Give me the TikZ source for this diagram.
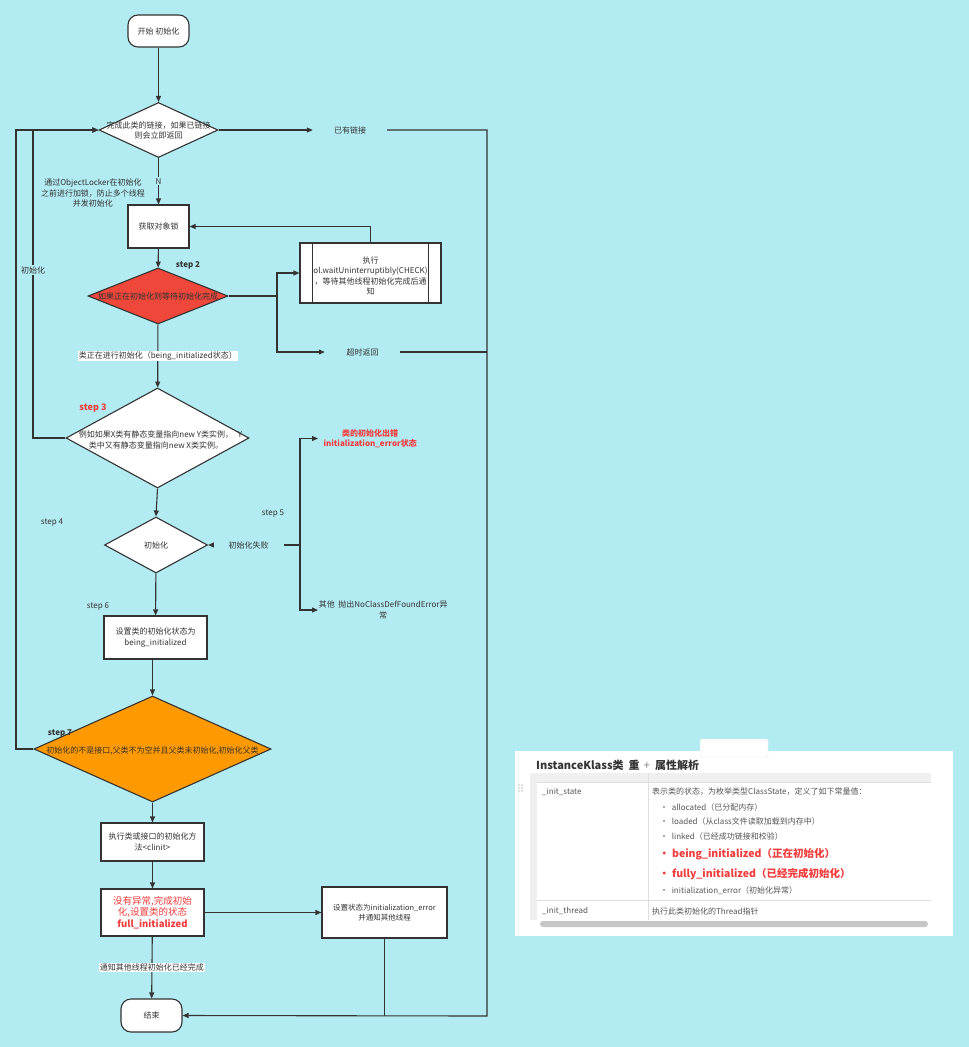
\documentclass[tikz,border=0pt]{standalone}
\usepackage{fontspec}
\setmainfont{Noto Sans CJK SC}
\usetikzlibrary{shapes.geometric,arrows.meta}
\definecolor{bg}{HTML}{B2EBF2}
\definecolor{ln}{HTML}{333333}
\definecolor{txt}{HTML}{333333}
\definecolor{redfill}{HTML}{F0473B}
\definecolor{orangefill}{HTML}{FF9900}
\definecolor{redtxt}{HTML}{F23B3B}
\definecolor{tbltxt}{HTML}{555555}
\newcommand\flowfont{\fontsize{8}{10.5}\selectfont}
\newcommand\tblfont{\fontsize{8}{10}\selectfont}
\tikzset{
  lw/.style={line width=1.1pt},
  arr/.style={draw=ln, lw, -{Triangle[length=6pt,width=5pt]}},
  plain/.style={draw=ln, lw},
  lbl/.style={font=\flowfont, text=txt, inner sep=0pt, align=center},
  box/.style={draw=ln, lw, fill=white, inner sep=0pt, align=center, font=\flowfont, text=txt},
  term/.style={box, rounded corners=10pt},
  dia/.style={diamond, draw=ln, lw, fill=white, inner sep=0pt, aspect=1},
  steplbl/.style={font=\flowfont, text=txt, inner sep=0pt},
  tbl/.style={font=\tblfont, text=tbltxt, inner sep=0pt, anchor=west},
  tblred/.style={font=\fontsize{10.5}{12}\selectfont\bfseries, text=redtxt, inner sep=0pt, anchor=west}
}
\begin{document}
\begin{tikzpicture}[x=1pt,y=-1pt]
\fill[bg] (0,0) rectangle (969,1047);
\useasboundingbox (0,0) rectangle (969,1047);

% ---- nodes ----
\node[term, minimum width=61pt, minimum height=32pt] (start) at (158.5,31) {开始 初始化};
\node[dia, minimum width=119pt, minimum height=55pt] (d1) at (158.5,130) {};
\node[lbl] (d1t) at (158.5,130.5) {完成此类的链接，如果已链接\\则会立即返回};
\node[lbl, minimum width=74pt] (link) at (350,130) {已有链接};
\coordinate (rc) at (487,1016);
\node[lbl] (note) at (93,193) {通过ObjectLocker在初始化\\之前进行加锁，防止多个线程\\并发初始化};
\node[box, minimum width=61pt, minimum height=43pt] (lock) at (158.5,226.5) {获取对象锁};
\node[steplbl, font=\flowfont\bfseries] (s2) at (188,265) {step 2};
\node[dia, fill=redfill, minimum width=140pt, minimum height=56pt] (d2) at (158,296) {};
\node[lbl] (d2t) at (158,296) {如果正在初始化则等待初始化完成};
\node[box, minimum width=141pt, minimum height=60pt] (wait) at (370.5,273) {};
\node[lbl] (waitt) at (370.5,276) {执行\\ol.waitUninterruptibly(CHECK)\\，等待其他线程初始化完成后通\\知};
\coordinate (br) at (277,296);
\node[lbl, minimum width=75pt] (timeout) at (362.5,352) {超时返回};
\node[dia, minimum width=183pt, minimum height=100pt] (d3) at (157.5,438) {};
\node[lbl] (d3t) at (156,440) {例如如果X类有静态变量指向new Y类实例，\\类中又有静态变量指向new X类实例。};
\node[lbl] (ylab) at (240,435) {Y};
\node[steplbl, font=\fontsize{9}{11}\selectfont\bfseries, text=redtxt] (s3) at (93,408) {step 3};
\node[dia, minimum width=103pt, minimum height=56pt] (d4) at (156,545) {};
\node[lbl] (d4t) at (156,545) {初始化};
\node[steplbl] (s4) at (52,523) {step 4};
\coordinate (fj) at (300,545);
\node[lbl, font=\flowfont\bfseries, text=redtxt, minimum width=104pt, anchor=west] (err) at (318,438.5) {类的初始化出错\\initialization\_error状态};
\node[lbl, minimum width=130pt, anchor=west] (other) at (318,610) {其他\ \ 抛出NoClassDefFoundError异\\常};
\node[steplbl] (s5) at (273,514) {step 5};
\node[steplbl] (s6) at (98,607) {step 6};
\node[box, minimum width=103pt, minimum height=43pt] (box6) at (155.5,637.5) {设置类的初始化状态为\\being\_initialized};
\node[dia, fill=orangefill, minimum width=237pt, minimum height=106pt] (d7) at (152.5,749) {};
\node[lbl] (d7t) at (152.5,751) {初始化的不是接口,父类不为空并且父类未初始化,初始化父类};
\node[steplbl, font=\flowfont\bfseries] (s7) at (60,733) {step 7};
\node[box, minimum width=103pt, minimum height=38pt] (box8) at (152.5,842) {执行类或接口的初始化方\\法<clinit>};
\node[box, minimum width=103pt, minimum height=47pt, text=redtxt, font=\fontsize{9.5}{11.5}\selectfont] (box9) at (152.5,912.5) {没有异常,完成初始\\化,设置类的状态\\\textbf{full\_initialized}};
\node[box, minimum width=125pt, minimum height=51pt, font=\fontsize{7.5}{10}\selectfont] (box10) at (384.5,912.5) {设置状态为initialization\_error\\并通知其他线程};
\node[term, minimum width=61pt, minimum height=33pt] (end) at (151.5,1015.5) {结束};

% inner lines of the predefined-process box
\draw[plain] ([xshift=13pt]wait.north west) -- ([xshift=13pt]wait.south west);
\draw[plain] ([xshift=-13pt]wait.north east) -- ([xshift=-13pt]wait.south east);

% ---- connectors ----
\coordinate (l1) at (33,130);
\coordinate (l2) at (16,130);
\draw[arr] (start) -- (d1);
\draw[arr] (d1.east) -- (link.west);
\draw[arr] (link.east) -| (rc) -- (end.east);
\draw[arr] (d1) -- node[lbl, fill=bg, inner sep=1pt] {N} (lock);
\draw[arr] (lock) -- (d2);
\draw[plain] (d2.east) -- (br);
\draw[arr] (br) |- (wait.west);
\draw[arr] (br) |- (timeout.west);
\draw[plain] (timeout.east) -- (timeout.east -| rc);
\draw[arr] (wait.north) |- (lock.east);
\draw[arr] (d2) -- node[lbl, fill=white, inner sep=1pt] {类正在进行初始化（being\_initialized状态）} (d3);
\draw[arr] (d3.west) -| (l1) -- (d1.west);
\draw[arr] (d7.west) -| (l2) -- (d1.west);
\node[lbl, fill=bg, inner sep=1pt] (initlab) at (33,270) {初始化};
\draw[arr] (d3.south) -- (d4.north);
\draw[arr] (fj) -- node[lbl, fill=bg, minimum width=70pt, pos=0.56] {初始化失败} (d4.east);
\draw[arr] (fj) |- (err.west);
\draw[arr] (fj) |- (other.west);
\draw[arr] (d4) -- (box6);
\draw[arr] (box6.south -| d7.north) -- (d7.north);
\draw[arr] (d7) -- (box8);
\draw[arr] (box8) -- (box9);
\draw[arr] (box9.east) -- (box10.west);
\draw[arr] (box9) -- node[lbl, fill=white, inner sep=1pt] {通知其他线程初始化已经完成} (end);
\draw[plain] (box10.south) -- (box10.south |- rc);

% ---- screenshot panel ----
\fill[white] (515,751) rectangle (953,936);
\fill[white, draw=gray!15, rounded corners=2pt] (700,739) rectangle (768,757);
\node[font=\fontsize{11}{12}\selectfont\bfseries, text=txt, anchor=west, inner sep=0pt] (title) at (536,765) {InstanceKlass类\ \ 重};
\node[text=gray, font=\fontsize{11}{12}\selectfont, inner sep=0pt] (plus) at (647,766) {+};
\node[font=\fontsize{11}{12}\selectfont\bfseries, text=txt, anchor=west, inner sep=0pt] (title2) at (655,765) {属性解析};
\fill[gray!12] (530,773) rectangle (931,782);
\fill[gray!12] (530,773) rectangle (537,920);
\draw[gray!25, line width=0.5pt] (537,782) -- (931,782);
\draw[gray!25, line width=0.5pt] (537,900) -- (931,900);
\draw[gray!25, line width=0.5pt] (648,773) -- (648,920);
\fill[gray!45, rounded corners=3pt] (540,921) rectangle (928,927);
\foreach \dx in {0,3} \foreach \dy in {0,3,6} \fill[gray] (519+\dx,785+\dy) circle (0.7pt);
\node[tbl] (r1a) at (542,792) {\_init\_state};
\node[tbl] (r1b) at (652,792) {表示类的状态，为枚举类型ClassState，定义了如下常量值：};
\node[tbl] (b1) at (660,807) {·\ \ allocated（已分配内存）};
\node[tbl] (b2) at (660,821) {·\ \ loaded（从class文件读取加载到内存中）};
\node[tbl] (b3) at (660,836) {·\ \ linked（已经成功链接和校验）};
\node[tblred] (b4) at (659,854) {·\ being\_initialized（正在初始化）};
\node[tblred] (b5) at (659,874) {·\ fully\_initialized（已经完成初始化）};
\node[tbl] (b6) at (660,891) {·\ \ initialization\_error（初始化异常）};
\node[tbl] (r2a) at (542,911) {\_init\_thread};
\node[tbl] (r2b) at (652,911) {执行此类初始化的Thread指针};
\end{tikzpicture}
\end{document}
